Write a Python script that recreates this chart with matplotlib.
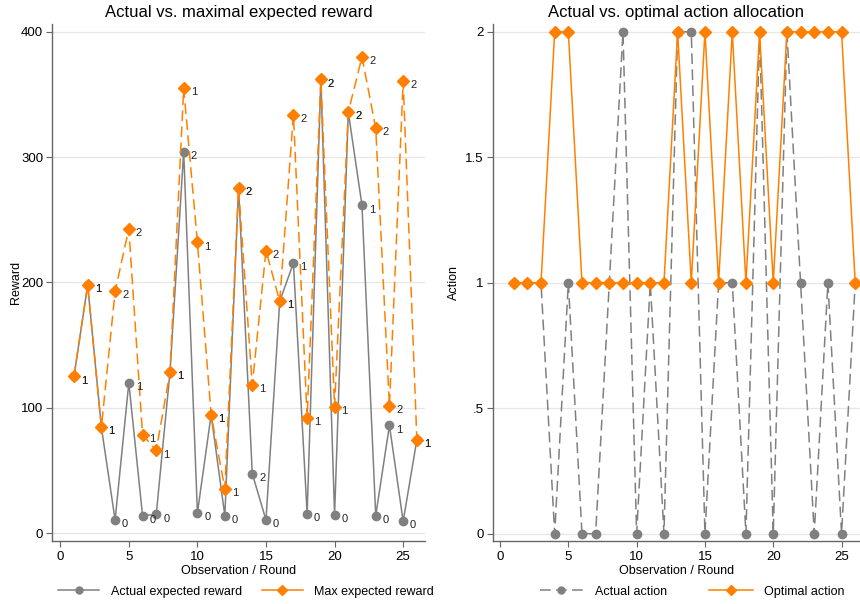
import numpy as np
import matplotlib
matplotlib.use("Agg")
import matplotlib.pyplot as plt
from matplotlib.lines import Line2D

plt.rcParams.update({"font.family": ["Liberation Sans", "DejaVu Sans"], "font.size": 9})

GRAY = "#808080"
ORANGE = "#ff8000"

rounds = np.arange(1, 27)
max_reward = [125, 198, 84.5, 193, 243, 78.5, 66, 128.5, 355, 232, 94.5, 35.5, 275.5,
              118, 225.5, 185, 334, 92, 362, 101, 336, 380, 323, 101.5, 360.5, 74.5]
actual_reward = [125, 198, 84.5, 10.5, 120, 14, 15, 128.5, 304.5, 16, 94.5, 14, 275.5,
                 47.5, 10.5, 185, 215.5, 15.5, 362, 14.5, 336, 261.5, 14, 86, 9.5, 74.5]
optimal_action = [1, 1, 1, 2, 2, 1, 1, 1, 1, 1, 1, 1, 2, 1, 2, 1, 2, 1, 2, 1, 2, 2, 2, 2, 2, 1]
actual_action = [1, 1, 1, 0, 1, 0, 0, 1, 2, 0, 1, 0, 2, 2, 0, 1, 1, 0, 2, 0, 2, 1, 0, 1, 0, 1]

fig = plt.figure(figsize=(8.6, 6.04), dpi=100)
ax1 = fig.add_axes([0.0608, 0.1048, 0.4335, 0.855])
ax2 = fig.add_axes([0.573, 0.1048, 0.427, 0.855])

def style(ax):
    for s in ["top", "right"]:
        ax.spines[s].set_visible(False)
    for s in ["left", "bottom"]:
        ax.spines[s].set_color("#666")
        ax.spines[s].set_linewidth(1.0)
    ax.grid(axis="y", color="#e6e6e6", lw=0.9)
    ax.set_axisbelow(True)
    ax.tick_params(length=4, color="#666", labelsize=9.5)
    ax.tick_params(axis="y", pad=2.5)
    ax.set_xticks([0, 5, 10, 15, 20, 25])
    ax.set_xlabel("Observation / Round", fontsize=9, labelpad=1)

# ---- left: rewards ----
ax = ax1
style(ax)
ax.plot(rounds, actual_reward, color=GRAY, lw=1.1, marker="o", ms=6, mec=GRAY, zorder=3)
ax.plot(rounds, max_reward, color=ORANGE, lw=1.1, dashes=(7, 3.5), marker="D", ms=6, mec=ORANGE, zorder=4)
for x, y, a in zip(rounds, actual_reward, actual_action):
    ax.annotate(str(a), (x, y), xytext=(5, -3), textcoords="offset points",
                fontsize=8, va="center", ha="left", color="#222", zorder=5)
for x, y, a in zip(rounds, max_reward, optimal_action):
    ax.annotate(str(a), (x, y), xytext=(5, -3), textcoords="offset points",
                fontsize=8, va="center", ha="left", color="#222", zorder=5)
ax.set_xlim(-0.58, 26.6)
ax.set_ylim(-6, 406)
ax.set_yticks([0, 100, 200, 300, 400])
ax.set_ylabel("Reward", fontsize=9)
ax.yaxis.set_label_coords(-0.08, 0.5)
ax.set_title("Actual vs. maximal expected reward", fontsize=12, pad=5)
h1 = [Line2D([], [], color=GRAY, lw=1.1, marker="o", ms=5),
      Line2D([], [], color=ORANGE, lw=1.1, marker="D", ms=5)]
ax.legend(h1, ["Actual expected reward", "Max expected reward"], loc="center",
          bbox_to_anchor=(0.52, -0.099), ncol=2, frameon=False, fontsize=9,
          handlelength=3.3, columnspacing=1.6, handletextpad=0.9)

# ---- right: actions ----
ax = ax2
style(ax)
ax.plot(rounds, actual_action, color=GRAY, lw=1.1, dashes=(7, 3.5), marker="o", ms=6, mec=GRAY, zorder=3)
ax.plot(rounds, optimal_action, color=ORANGE, lw=1.1, marker="D", ms=6, mec=ORANGE, zorder=4,
        clip_on=False)
ax.set_xlim(-0.53, 26.35)
ax.set_ylim(-0.028, 2.03)
ax.set_yticks([0, 0.5, 1, 1.5, 2])
ax.set_yticklabels(["0", ".5", "1", "1.5", "2"])
ax.set_ylabel("Action", fontsize=9)
ax.yaxis.set_label_coords(-0.088, 0.5)
ax.set_title("Actual vs. optimal action allocation", fontsize=12, pad=5)
h2 = [Line2D([], [], color=GRAY, lw=1.1, dashes=(7, 3.5), marker="o", ms=5),
      Line2D([], [], color=ORANGE, lw=1.1, marker="D", ms=5)]
ax.legend(h2, ["Actual action", "Optimal action"], loc="center",
          bbox_to_anchor=(0.543, -0.099), ncol=2, frameon=False, fontsize=9,
          handlelength=3.5, columnspacing=3.4, handletextpad=0.9)

fig.savefig("out.png", dpi=100)
